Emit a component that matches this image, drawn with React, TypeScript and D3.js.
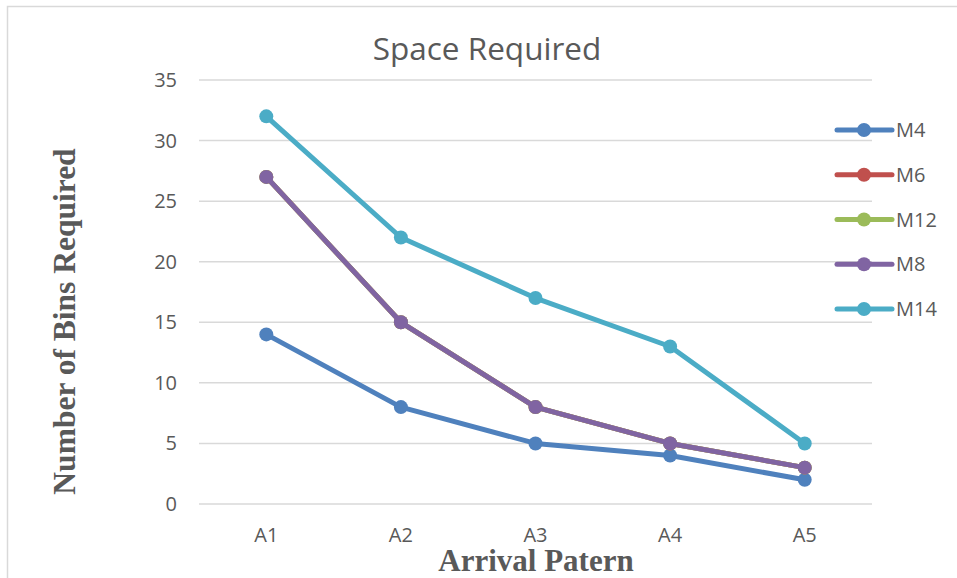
import React from "react";
import * as d3 from "d3";

const categories = ["A1", "A2", "A3", "A4", "A5"];
const seriesNames = ["M4", "M6", "M12", "M8", "M14"];
const m4 = [14, 8, 5, 4, 2];
const m6 = [27, 15, 8, 5, 3];
const m12 = [27, 15, 8, 5, 3];
const m8 = [27, 15, 8, 5, 3];
const m14 = [32, 22, 17, 13, 5];
const yTicks = [0, 5, 10, 15, 20, 25, 30, 35];
const colors = ["#4F81BD", "#C0504D", "#9BBB59", "#8064A2", "#4BACC6"];

const seriesValues = [m4, m6, m12, m8, m14];

const W = 957;
const H = 578;
const plot = { left: 199, right: 872, top: 80, bottom: 504 };
const sans = "'Open Sans', 'Noto Sans', sans-serif";
const serif = "'Liberation Serif', 'DejaVu Serif', serif";
const textColor = "#595959";

export default function App() {
  const x = d3
    .scalePoint<string>()
    .domain(categories)
    .range([plot.left, plot.right])
    .padding(0.5);
  const y = d3.scaleLinear().domain([0, 35]).range([plot.bottom, plot.top]);
  const line = d3
    .line<number>()
    .x((_, i) => x(categories[i]) as number)
    .y((d) => y(d));

  const legendX = 837;
  const legendY = d3
    .scalePoint<string>()
    .domain(seriesNames)
    .range([130, 309]);

  return (
    <div style={{ position: "absolute", left: 0, top: 0 }}>
      <svg width={W} height={H} style={{ display: "block", background: "#fff" }}>
        <rect x={7.5} y={6.5} width={980} height={620} fill="#fff" stroke="#d9d9d9" strokeWidth={1.5} />
        <text x={487} y={60} textAnchor="middle" fontFamily={sans} fontSize={31.5} fill={textColor}>
          Space Required
        </text>
        {yTicks.map((t) => (
          <g key={t}>
            <line x1={plot.left} x2={plot.right} y1={y(t)} y2={y(t)} stroke="#d9d9d9" strokeWidth={1.5} />
            <text x={177} y={y(t) + 7} textAnchor="end" fontFamily={sans} fontSize={20} fill={textColor}>
              {t}
            </text>
          </g>
        ))}
        {categories.map((c) => (
          <text key={c} x={x(c)} y={542} textAnchor="middle" fontFamily={sans} fontSize={20} fill={textColor}>
            {c}
          </text>
        ))}
        {seriesValues.map((vals, si) => (
          <g key={seriesNames[si]}>
            <path d={line(vals) || ""} fill="none" stroke={colors[si]} strokeWidth={5} strokeLinejoin="round" strokeLinecap="round" />
            {vals.map((v, i) => (
              <circle key={i} cx={x(categories[i])} cy={y(v)} r={7} fill={colors[si]} />
            ))}
          </g>
        ))}
        {seriesNames.map((n, si) => {
          const ly = legendY(n) as number;
          return (
            <g key={n}>
              <line x1={legendX} x2={legendX + 55} y1={ly} y2={ly} stroke={colors[si]} strokeWidth={5} strokeLinecap="round" />
              <circle cx={legendX + 27} cy={ly} r={7} fill={colors[si]} />
              <text x={legendX + 59} y={ly + 7} fontFamily={sans} fontSize={20} fill={textColor}>
                {n}
              </text>
            </g>
          );
        })}
        <text
          transform={`translate(75, ${(148 + 495) / 2}) rotate(-90)`}
          textAnchor="middle"
          fontFamily={serif}
          fontWeight="bold"
          fontSize={31.5}
          fill={textColor}
        >
          Number of Bins Required
        </text>
        <text x={536} y={571} textAnchor="middle" fontFamily={serif} fontWeight="bold" fontSize={31} fill={textColor}>
          Arrival Patern
        </text>
      </svg>
    </div>
  );
}
